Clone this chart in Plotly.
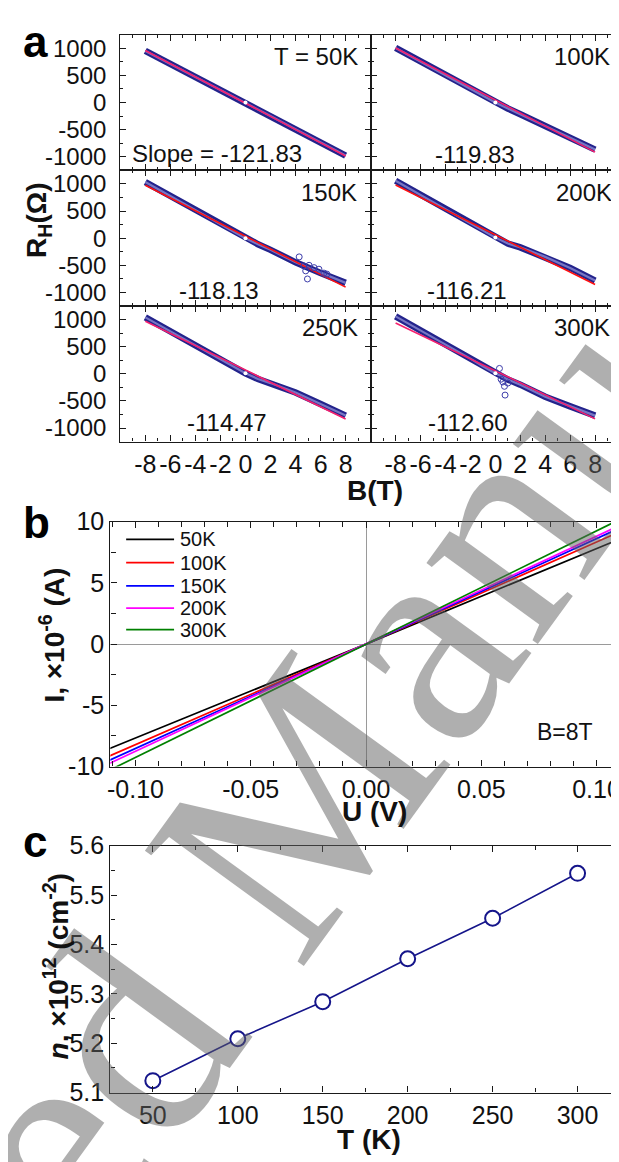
import plotly.graph_objects as go

W, H = 619, 1162
FONT = "Liberation Sans, Arial, Helvetica, sans-serif"
SERIF = "Liberation Serif, Times New Roman, serif"
INK = "#1a1a1a"

# ---------------- panel a : Hall resistance vs magnetic field ----------------
B_T = [-8, -6, -4, -2, -1, 0, 1, 2, 4, 6, 8]
RH_50K = [950, 712, 475, 237, 118, 0, -130, -250, -492, -735, -978]
RH_100K = [1005, 752, 500, 250, 125, 0, -110, -215, -432, -650, -868]
RH_150K = [1034, 772, 512, 252, 125, 0, -112, -215, -445, -640, -824]
RH_200K = [1058, 795, 530, 268, 135, 10, -100, -170, -345, -548, -782]
RH_250K = [1040, 780, 518, 258, 130, 9, -95, -171, -345, -555, -770]
RH_300K = [1058, 800, 545, 280, 140, 9, -105, -200, -423, -600, -770]

FIT_B = [-8, 8]
FIT_50K = [960, -985]
FIT_100K = [1004, -914]
FIT_150K = [975, -903]
FIT_200K = [980, -855]
FIT_250K = [968, -831]
FIT_300K = [938, -830]

OUT_150K_B = [4.29, 4.68, 4.81, 4.95, 5.08, 5.48, 5.87, 6.27, 6.5]
OUT_150K_R = [-345, -513, -603, -752, -500, -543, -572, -644, -662]
OUT_300K_B = [0.33, 0.46, 0.73, 0.78, 1.0, 0.6]
OUT_300K_R = [99, -99, -230, -392, -171, -150]

TEMP_LABELS = ["T = 50K", "100K", "150K", "200K", "250K", "300K"]
SLOPE_LABELS = ["Slope = -121.83", "-119.83", "-118.13", "-116.21", "-114.47", "-112.60"]
A_XTICKS = [-8, -6, -4, -2, 0, 2, 4, 6, 8]
A_XTEXT = ["-8", "-6", "-4", "-2", "0", "2", "4", "6", "8"]
A_YTICKS = [-1000, -500, 0, 500, 1000]
A_YTEXT = ["-1000", "-500", "0", "500", "1000"]

# ---------------- panel b : I-U curves at B = 8T ----------------
U_V = [-0.112, 0.0, 0.112]
I_50K = [-8.58, 0.0, 8.74]
I_100K = [-9.19, 0.0, 9.34]
I_150K = [-9.54, 0.0, 9.65]
I_200K = [-9.80, 0.0, 9.86]
I_300K = [-10.36, 0.0, 10.36]
B_NAMES = ["50K", "100K", "150K", "200K", "300K"]
B_COLORS = ["#000000", "#ff0000", "#0000ff", "#ff00ff", "#008000"]
B_XTICKS = [-0.10, -0.05, 0.0, 0.05, 0.10]
B_XTEXT = ["-0.10", "-0.05", "0.00", "0.05", "0.10"]
B_YTICKS = [-10, -5, 0, 5, 10]
B_YTEXT = ["-10", "-5", "0", "5", "10"]

# ---------------- panel c : carrier density vs temperature ----------------
T_K = [50, 100, 150, 200, 250, 300]
N_1E12 = [5.124, 5.209, 5.284, 5.371, 5.453, 5.544]
C_XTICKS = [50, 100, 150, 200, 250, 300]
C_YTICKS = [5.1, 5.2, 5.3, 5.4, 5.5, 5.6]
C_YTEXT = ["5.1", "5.2", "5.3", "5.4", "5.5", "5.6"]


def fx(px):
    return px / W


def fy(py):
    return 1 - py / H


fig = go.Figure()

RH = [RH_50K, RH_100K, RH_150K, RH_200K, RH_250K, RH_300K]
FITS = [FIT_50K, FIT_100K, FIT_150K, FIT_200K, FIT_250K, FIT_300K]
FIT_COLORS = ["#f5206e", "#f5206e", "#ff1010", "#ff1010", "#f5206e", "#f5206e"]
COLX = [(110, 362), (362, 613)]
ROWY = [(13, 152), (152, 291), (291, 430)]


def axis_common(size=25):
    return dict(
        showline=True, linecolor=INK, linewidth=1.3, mirror="ticks",
        ticks="inside", tickcolor=INK, tickwidth=1.1, showgrid=False, zeroline=False,
        tickfont=dict(family=FONT, size=size, color="#111"),
    )


annotations = []
# watermark first (drawn beneath the other annotations)
annotations.append(dict(
    text="Accepted Manuscript", xref="paper", yref="paper",
    x=fx(255), y=fy(848), xanchor="center", yanchor="middle", showarrow=False,
    textangle=-54, font=dict(family=SERIF, size=300, color="rgba(95,95,95,0.50)"),
))

for i in range(6):
    k = i + 1
    r, c = divmod(i, 2)
    xs = "x" if k == 1 else f"x{k}"
    ys = "y" if k == 1 else f"y{k}"
    xa = "xaxis" if k == 1 else f"xaxis{k}"
    ya = "yaxis" if k == 1 else f"yaxis{k}"
    fig.add_trace(go.Scatter(x=B_T, y=RH[i], mode="lines", xaxis=xs, yaxis=ys,
                             line=dict(color="#23238c", width=6.5), showlegend=False))
    fig.add_trace(go.Scatter(x=B_T, y=RH[i], mode="lines", xaxis=xs, yaxis=ys,
                             line=dict(color="#7676c4", width=2.2), showlegend=False))
    fig.add_trace(go.Scatter(x=FIT_B, y=FITS[i], mode="lines", xaxis=xs, yaxis=ys,
                             line=dict(color=FIT_COLORS[i], width=1.6), showlegend=False))
    if k == 3:
        fig.add_trace(go.Scatter(x=OUT_150K_B, y=OUT_150K_R, mode="markers", xaxis=xs, yaxis=ys,
                                 marker=dict(symbol="circle-open", size=6, color="#3c3caa",
                                             line=dict(width=1)), showlegend=False))
    if k == 6:
        fig.add_trace(go.Scatter(x=OUT_300K_B, y=OUT_300K_R, mode="markers", xaxis=xs, yaxis=ys,
                                 marker=dict(symbol="circle-open", size=6, color="#3c3caa",
                                             line=dict(width=1)), showlegend=False))
    fig.add_trace(go.Scatter(x=[B_T[5]], y=[RH[i][5]], mode="markers", xaxis=xs, yaxis=ys,
                             marker=dict(symbol="circle", size=4, color="white"), showlegend=False))

    x0, x1 = COLX[c]
    y0, y1 = ROWY[r]
    fig.layout[xa] = dict(axis_common(25), domain=[fx(x0), fx(x1)], range=[-10, 10],
                          anchor=ys, tickmode="array", tickvals=A_XTICKS, ticktext=A_XTEXT,
                          ticklen=6, showticklabels=(r == 2),
                          minor=dict(dtick=1, ticks="inside", ticklen=3, tickcolor=INK))
    fig.layout[ya] = dict(axis_common(24), domain=[fy(y1), fy(y0)], range=[-1250, 1250],
                          anchor=xs, tickmode="array", tickvals=A_YTICKS, ticktext=A_YTEXT,
                          ticklen=6, showticklabels=(c == 0), ticklabelstandoff=8,
                          minor=dict(dtick=250, ticks="inside", ticklen=3, tickcolor=INK))

    tx = [0.959, 0.968, 0.952, 0.976, 0.959, 0.968][i]
    annotations.append(dict(text=TEMP_LABELS[i], xref=f"{xs} domain", yref=f"{ys} domain",
                            x=tx, y=0.84, xanchor="right", yanchor="middle", showarrow=False,
                            font=dict(family=FONT, size=24, color="#111")))
    sx = [0.04, 0.418, 0.393, 0.388, 0.425, 0.39][i]
    sy = [0.122, 0.12, 0.115, 0.115, 0.144, 0.144][i]
    annotations.append(dict(text=SLOPE_LABELS[i], xref=f"{xs} domain", yref=f"{ys} domain",
                            x=sx, y=sy, xanchor="left" if i == 0 else "center", yanchor="middle",
                            showarrow=False, font=dict(family=FONT, size=24, color="#111")))

# panel b
I_SERIES = [I_50K, I_100K, I_150K, I_200K, I_300K]
for name, col, vals in zip(B_NAMES, B_COLORS, I_SERIES):
    fig.add_trace(go.Scatter(x=U_V, y=vals, mode="lines", xaxis="x7", yaxis="y7", name=name,
                             line=dict(color=col, width=1.7), showlegend=False))
fig.layout["xaxis7"] = dict(axis_common(25), domain=[fx(100), fx(613)], range=[-0.1109, 0.1102],
                            anchor="y7", tickmode="array", tickvals=B_XTICKS, ticktext=B_XTEXT,
                            ticklen=6, zeroline=True, zerolinecolor="#9a9a9a", zerolinewidth=1.2,
                            minor=dict(dtick=0.01, ticks="inside", ticklen=5, tickcolor=INK))
fig.layout["yaxis7"] = dict(axis_common(25), domain=[fy(763), fy(512)], range=[-10, 10],
                            anchor="x7", tickmode="array", tickvals=B_YTICKS, ticktext=B_YTEXT,
                            ticklen=6, zeroline=True, zerolinecolor="#9a9a9a", zerolinewidth=1.2,
                            minor=dict(dtick=2.5, ticks="inside", ticklen=5, tickcolor=INK))
# manual legend for panel b
LEG_Y = [0.928, 0.833, 0.738, 0.647, 0.559]
shapes = []
for name, col, ly in zip(B_NAMES, B_COLORS, LEG_Y):
    shapes.append(dict(type="line", xref="x7 domain", yref="y7 domain", x0=0.031, x1=0.125,
                       y0=ly, y1=ly, line=dict(color=col, width=1.7)))
    annotations.append(dict(text=name, xref="x7 domain", yref="y7 domain", x=0.133, y=ly,
                            xanchor="left", yanchor="middle", showarrow=False,
                            font=dict(family=FONT, size=20, color="#111")))
annotations.append(dict(text="B=8T", xref="x7 domain", yref="y7 domain", x=0.95, y=0.14,
                        xanchor="right", yanchor="middle", showarrow=False,
                        font=dict(family=FONT, size=23, color="#111")))

# panel c
fig.add_trace(go.Scatter(x=T_K, y=N_1E12, mode="lines+markers", xaxis="x8", yaxis="y8",
                         line=dict(color="#15158a", width=1.6),
                         marker=dict(symbol="circle", size=15, color="white",
                                     line=dict(color="#15158a", width=2)),
                         showlegend=False))
fig.layout["xaxis8"] = dict(axis_common(25), domain=[fx(100), fx(613)], range=[25, 325],
                            anchor="y8", tickmode="array", tickvals=C_XTICKS,
                            ticklen=6,
                            minor=dict(dtick=25, ticks="inside", ticklen=4, tickcolor=INK))
fig.layout["yaxis8"] = dict(axis_common(25), domain=[fy(1097), fy(844)], range=[5.1, 5.6],
                            anchor="x8", tickmode="array", tickvals=C_YTICKS, ticktext=C_YTEXT,
                            ticklen=6,
                            minor=dict(dtick=0.05, ticks="inside", ticklen=4, tickcolor=INK))


def title(text, x, y, angle=0, size=28):
    annotations.append(dict(text=text, xref="paper", yref="paper", x=fx(x), y=fy(y),
                            xanchor="center", yanchor="middle", showarrow=False, textangle=angle,
                            font=dict(family=FONT, size=size, color="#111")))


title("<b>R<sub>H</sub>(Ω)</b>", 27, 203, -90)
title("<b>B(T)</b>", 366, 480)
title("<b>I, ×10<sup>-6</sup> (A)</b>", 41, 628, -90)
title("<b>U (V)</b>", 366, 809)
title("<b><i>n</i>, ×10<sup>12</sup> (cm<sup>-2</sup>)</b>", 45, 968, -90)
title("<b>T (K)</b>", 360, 1145)
for letter, (lx, ly) in zip(["a", "b", "c"], [(10, 20), (10, 513), (10, 840)]):
    annotations.append(dict(text=f"<b>{letter}</b>", xref="paper", yref="paper", x=fx(lx), y=fy(ly),
                            xanchor="left", yanchor="middle", showarrow=False,
                            font=dict(family=FONT, size=44, color="#000")))

fig.update_layout(
    width=W, height=H, margin=dict(l=0, r=0, t=0, b=0),
    paper_bgcolor="white", plot_bgcolor="white",
    annotations=annotations, shapes=shapes, showlegend=False,
    font=dict(family=FONT, color="#111"),
)

fig.write_html("out.html")
